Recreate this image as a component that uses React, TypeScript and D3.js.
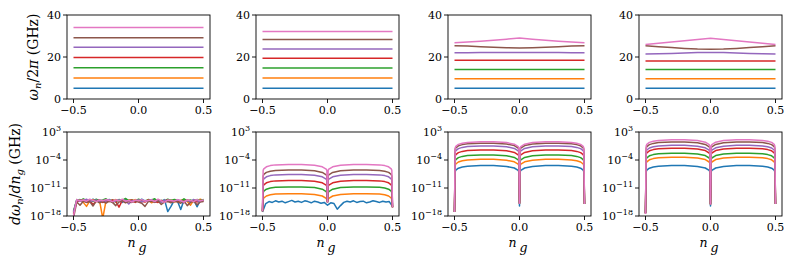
import * as d3 from 'd3';

const colors = ['#1f77b4', '#ff7f0e', '#2ca02c', '#d62728', '#9467bd', '#8c564b', '#e377c2'];

// n_g sample points
const ngCoarse = [-0.5, -0.4, -0.3, -0.2, -0.1, 0, 0.1, 0.2, 0.3, 0.4, 0.5];
const ngFine = [
  -0.5, -0.475, -0.45, -0.425, -0.4, -0.375, -0.35, -0.325, -0.3, -0.275,
  -0.25, -0.225, -0.2, -0.175, -0.15, -0.125, -0.1, -0.075, -0.05, -0.025,
  0, 0.025, 0.05, 0.075, 0.1, 0.125, 0.15, 0.175, 0.2, 0.225,
  0.25, 0.275, 0.3, 0.325, 0.35, 0.375, 0.4, 0.425, 0.45, 0.475, 0.5,
];
const ngDome = [
  -0.5, -0.495, -0.49, -0.47, -0.44, -0.4, -0.3, -0.2, -0.1, -0.04, -0.01, -0.005,
  0, 0.005, 0.01, 0.04, 0.1, 0.2, 0.3, 0.4, 0.44, 0.47, 0.49, 0.495, 0.5,
];

// top row: omega_n / 2pi (GHz), one array per level, sampled on ngCoarse
const freqA = [
  [5.1, 5.1, 5.1, 5.1, 5.1, 5.1, 5.1, 5.1, 5.1, 5.1, 5.1],
  [10.0, 10.0, 10.0, 10.0, 10.0, 10.0, 10.0, 10.0, 10.0, 10.0, 10.0],
  [14.9, 14.9, 14.9, 14.9, 14.9, 14.9, 14.9, 14.9, 14.9, 14.9, 14.9],
  [19.8, 19.8, 19.8, 19.8, 19.8, 19.8, 19.8, 19.8, 19.8, 19.8, 19.8],
  [24.6, 24.6, 24.6, 24.6, 24.6, 24.6, 24.6, 24.6, 24.6, 24.6, 24.6],
  [29.2, 29.2, 29.2, 29.2, 29.2, 29.2, 29.2, 29.2, 29.2, 29.2, 29.2],
  [34.0, 34.0, 34.0, 34.0, 34.0, 34.0, 34.0, 34.0, 34.0, 34.0, 34.0],
];
const freqB = [
  [5.1, 5.1, 5.1, 5.1, 5.1, 5.1, 5.1, 5.1, 5.1, 5.1, 5.1],
  [10.0, 10.0, 10.0, 10.0, 10.0, 10.0, 10.0, 10.0, 10.0, 10.0, 10.0],
  [14.8, 14.8, 14.8, 14.8, 14.8, 14.8, 14.8, 14.8, 14.8, 14.8, 14.8],
  [19.4, 19.4, 19.4, 19.4, 19.4, 19.4, 19.4, 19.4, 19.4, 19.4, 19.4],
  [23.8, 23.8, 23.8, 23.8, 23.8, 23.8, 23.8, 23.8, 23.8, 23.8, 23.8],
  [28.3, 28.3, 28.3, 28.3, 28.3, 28.3, 28.3, 28.3, 28.3, 28.3, 28.3],
  [32.2, 32.2, 32.2, 32.2, 32.2, 32.2, 32.2, 32.2, 32.2, 32.2, 32.2],
];
const freqC = [
  [5.1, 5.1, 5.1, 5.1, 5.1, 5.1, 5.1, 5.1, 5.1, 5.1, 5.1],
  [9.7, 9.7, 9.7, 9.7, 9.7, 9.7, 9.7, 9.7, 9.7, 9.7, 9.7],
  [14.1, 14.1, 14.1, 14.1, 14.1, 14.1, 14.1, 14.1, 14.1, 14.1, 14.1],
  [18.4, 18.4, 18.4, 18.4, 18.4, 18.4, 18.4, 18.4, 18.4, 18.4, 18.4],
  [22.0, 22.0, 22.1, 22.1, 22.2, 22.2, 22.2, 22.1, 22.1, 22.0, 22.0],
  [25.4, 25.2, 24.9, 24.6, 24.4, 24.3, 24.4, 24.6, 24.9, 25.2, 25.4],
  [26.8, 27.1, 27.5, 28.0, 28.5, 29.0, 28.5, 28.0, 27.5, 27.1, 26.8],
];
const freqD = [
  [5.1, 5.1, 5.1, 5.1, 5.1, 5.1, 5.1, 5.1, 5.1, 5.1, 5.1],
  [9.7, 9.7, 9.7, 9.7, 9.7, 9.7, 9.7, 9.7, 9.7, 9.7, 9.7],
  [14.1, 14.1, 14.1, 14.1, 14.1, 14.1, 14.1, 14.1, 14.1, 14.1, 14.1],
  [18.1, 18.1, 18.1, 18.1, 18.1, 18.1, 18.1, 18.1, 18.1, 18.1, 18.1],
  [21.4, 21.5, 21.7, 21.9, 22.1, 22.2, 22.1, 21.9, 21.7, 21.5, 21.4],
  [25.3, 24.9, 24.5, 24.1, 23.8, 23.7, 23.8, 24.1, 24.5, 24.9, 25.3],
  [26.0, 26.5, 27.1, 27.7, 28.3, 28.9, 28.3, 27.7, 27.1, 26.5, 26.0],
];

// bottom row: log10 of d omega_n / d n_g (GHz)
const slopeA = [
  [-17.2, -14.1, -13.9, -14.3, -14.0, -14.4, -13.8, -14.2, -14.0, -14.5,
   -14.1, -13.9, -14.3, -14.0, -14.2, -14.6, -13.9, -14.1, -14.4, -14.0,
   -14.2, -13.8, -14.3, -14.1, -14.5, -14.0, -14.2, -14.4, -13.9, -16.9,
   -15.6, -14.1, -14.3, -16.4, -14.0, -14.2, -14.5, -13.9, -15.7, -14.1, -14.2],
  [-17.0, -14.3, -14.0, -14.6, -15.6, -14.2, -13.9, -14.4, -14.1, -18.6,
   -14.2, -14.0, -14.5, -13.9, -14.3, -14.1, -14.6, -14.0, -14.2, -13.9,
   -14.4, -14.1, -14.3, -14.0, -14.7, -14.2, -13.9, -14.4, -14.1, -14.3,
   -14.0, -14.5, -14.2, -14.1, -13.9, -14.4, -15.3, -14.0, -14.2, -13.8, -14.1],
  [-16.8, -13.9, -14.2, -13.7, -14.1, -14.0, -14.4, -13.8, -14.2, -14.0,
   -13.7, -14.3, -14.0, -14.5, -13.9, -14.1, -13.6, -14.2, -14.0, -14.4,
   -13.8, -14.1, -14.3, -13.9, -14.0, -13.7, -14.4, -14.1, -14.2, -13.8,
   -14.1, -13.9, -14.0, -14.3, -13.7, -14.2, -14.0, -14.4, -13.9, -14.1, -13.9],
  [-17.5, -14.4, -14.2, -14.0, -14.5, -14.1, -15.2, -14.3, -14.0, -14.6,
   -14.2, -14.4, -14.0, -14.3, -15.8, -14.1, -14.5, -14.2, -14.0, -14.6,
   -14.1, -14.3, -14.5, -14.0, -14.2, -14.4, -14.6, -14.1, -14.3, -14.0,
   -14.5, -14.2, -14.4, -14.1, -14.7, -14.0, -14.3, -14.2, -14.5, -14.1, -14.3],
  [-17.0, -14.0, -14.3, -14.1, -13.8, -14.4, -14.2, -14.0, -14.5, -14.1,
   -14.3, -13.9, -14.6, -14.2, -14.0, -14.4, -14.1, -15.0, -14.2, -14.3,
   -14.0, -14.5, -14.1, -14.3, -13.9, -14.4, -14.2, -14.6, -14.0, -14.3,
   -14.1, -14.4, -14.0, -14.2, -14.6, -14.1, -14.3, -13.9, -14.2, -14.4, -14.0],
  [-18.5, -14.5, -15.3, -14.3, -14.6, -14.4, -15.5, -14.2, -14.7, -14.4,
   -14.8, -14.3, -14.6, -15.4, -14.5, -14.2, -14.7, -14.4, -14.6, -14.3,
   -14.5, -14.8, -15.6, -14.4, -14.3, -14.6, -14.2, -15.1, -14.5, -14.4,
   -14.7, -14.3, -14.5, -14.8, -14.2, -15.4, -14.6, -14.3, -15.2, -14.5, -14.4],
  [-18.0, -13.9, -14.2, -14.0, -14.3, -13.8, -14.1, -14.4, -14.0, -14.2,
   -13.9, -14.1, -14.4, -14.0, -14.2, -13.8, -14.3, -14.1, -14.5, -14.0,
   -14.2, -13.9, -14.3, -14.1, -14.0, -14.4, -13.8, -14.2, -14.6, -14.0,
   -14.1, -14.3, -13.9, -14.2, -14.5, -14.0, -14.1, -14.4, -13.9, -14.2, -14.0],
];
const slopeBLowest = [
  -17.0, -14.9, -14.4, -14.6, -14.2, -14.5, -14.3, -14.7, -14.4, -14.1,
  -14.5, -14.3, -14.6, -14.2, -14.4, -14.7, -14.3, -14.5, -14.8, -14.6,
  -15.3, -14.7, -14.9, -16.3, -15.4, -14.6, -14.3, -14.5, -14.2, -14.6,
  -14.4, -14.3, -14.7, -14.5, -14.2, -14.4, -14.6, -14.3, -14.5, -14.4, -15.6,
];
const slopeB = [
  [-16.8, -13.9, -13.5, -13.0, -12.7, -12.52, -12.42, -12.42, -12.6, -13.0, -13.6, -13.9, -14.5,
   -13.9, -13.6, -13.0, -12.6, -12.42, -12.42, -12.52, -12.7, -13.0, -13.5, -13.9, -15.8],
  [-16.8, -12.2, -11.8, -11.3, -11.0, -10.82, -10.72, -10.72, -10.9, -11.3, -11.9, -12.2, -14.5,
   -12.2, -11.9, -11.3, -10.9, -10.72, -10.72, -10.82, -11.0, -11.3, -11.8, -12.2, -15.8],
  [-16.8, -10.6, -10.2, -9.7, -9.4, -9.22, -9.12, -9.12, -9.3, -9.7, -10.3, -10.6, -14.5,
   -10.6, -10.3, -9.7, -9.3, -9.12, -9.12, -9.22, -9.4, -9.7, -10.2, -10.6, -15.8],
  [-16.8, -9.1, -8.7, -8.2, -7.9, -7.72, -7.62, -7.62, -7.8, -8.2, -8.8, -9.1, -14.5,
   -9.1, -8.8, -8.2, -7.8, -7.62, -7.62, -7.72, -7.9, -8.2, -8.7, -9.1, -15.8],
  [-16.8, -8.0, -7.6, -7.1, -6.8, -6.62, -6.52, -6.52, -6.7, -7.1, -7.7, -8.0, -14.5,
   -8.0, -7.7, -7.1, -6.7, -6.52, -6.52, -6.62, -6.8, -7.1, -7.6, -8.0, -15.8],
  [-16.8, -6.6, -6.2, -5.7, -5.4, -5.22, -5.12, -5.12, -5.3, -5.7, -6.3, -6.6, -14.5,
   -6.6, -6.3, -5.7, -5.3, -5.12, -5.12, -5.22, -5.4, -5.7, -6.2, -6.6, -15.8],
];
const slopeC = [
  [-17.0, -6.95, -6.55, -6.05, -5.75, -5.55, -5.39, -5.39, -5.6, -6.0, -6.6, -6.95, -15.5,
   -6.95, -6.6, -6.0, -5.6, -5.39, -5.39, -5.55, -5.75, -6.05, -6.55, -6.95, -15.0],
  [-17.0, -5.4, -5.0, -4.5, -4.2, -4.0, -3.84, -3.84, -4.05, -4.45, -5.05, -5.4, -14.8,
   -5.4, -5.05, -4.45, -4.05, -3.84, -3.84, -4.0, -4.2, -4.5, -5.0, -5.4, -15.0],
  [-17.0, -4.3, -3.9, -3.4, -3.1, -2.9, -2.74, -2.74, -2.95, -3.35, -3.95, -4.3, -14.8,
   -4.3, -3.95, -3.35, -2.95, -2.74, -2.74, -2.9, -3.1, -3.4, -3.9, -4.3, -15.0],
  [-17.0, -3.05, -2.65, -2.15, -1.85, -1.65, -1.49, -1.49, -1.7, -2.1, -2.7, -3.05, -14.8,
   -3.05, -2.7, -2.1, -1.7, -1.49, -1.49, -1.65, -1.85, -2.15, -2.65, -3.05, -15.0],
  [-17.0, -2.05, -1.65, -1.15, -0.85, -0.65, -0.49, -0.49, -0.7, -1.1, -1.7, -2.05, -14.8,
   -2.05, -1.7, -1.1, -0.7, -0.49, -0.49, -0.65, -0.85, -1.15, -1.65, -2.05, -15.0],
  [-17.0, -1.35, -0.95, -0.45, -0.15, 0.05, 0.21, 0.21, 0.0, -0.4, -1.0, -1.35, -14.8,
   -1.35, -1.0, -0.4, 0.0, 0.21, 0.21, 0.05, -0.15, -0.45, -0.95, -1.35, -15.0],
  [-17.0, -1.0, -0.6, -0.1, 0.2, 0.4, 0.56, 0.56, 0.35, -0.05, -0.65, -1.0, -14.8,
   -1.0, -0.65, -0.05, 0.35, 0.56, 0.56, 0.4, 0.2, -0.1, -0.6, -1.0, -15.0],
];
const slopeD = [
  [-17.3, -6.95, -6.55, -6.05, -5.75, -5.55, -5.39, -5.39, -5.6, -6.0, -6.6, -6.95, -15.5,
   -6.95, -6.6, -6.0, -5.6, -5.39, -5.39, -5.55, -5.75, -6.05, -6.55, -6.95, -15.0],
  [-17.3, -4.85, -4.45, -3.95, -3.65, -3.45, -3.29, -3.29, -3.5, -3.9, -4.5, -4.85, -15.0,
   -4.85, -4.5, -3.9, -3.5, -3.29, -3.29, -3.45, -3.65, -3.95, -4.45, -4.85, -15.0],
  [-17.3, -3.85, -3.45, -2.95, -2.65, -2.45, -2.29, -2.29, -2.5, -2.9, -3.5, -3.85, -15.0,
   -3.85, -3.5, -2.9, -2.5, -2.29, -2.29, -2.45, -2.65, -2.95, -3.45, -3.85, -15.0],
  [-17.3, -2.6, -2.2, -1.7, -1.4, -1.2, -1.04, -1.04, -1.25, -1.65, -2.25, -2.6, -15.0,
   -2.6, -2.25, -1.65, -1.25, -1.04, -1.04, -1.2, -1.4, -1.7, -2.2, -2.6, -15.0],
  [-17.3, -1.9, -1.5, -1.0, -0.7, -0.5, -0.34, -0.34, -0.55, -0.95, -1.55, -1.9, -15.0,
   -1.9, -1.55, -0.95, -0.55, -0.34, -0.34, -0.5, -0.7, -1.0, -1.5, -1.9, -15.0],
  [-17.3, -1.05, -0.65, -0.15, 0.15, 0.35, 0.51, 0.51, 0.3, -0.1, -0.7, -1.05, -15.0,
   -1.05, -0.7, -0.1, 0.3, 0.51, 0.51, 0.35, 0.15, -0.15, -0.65, -1.05, -15.0],
  [-17.5, -0.5, -0.1, 0.4, 0.7, 0.9, 1.06, 1.06, 0.85, 0.45, -0.15, -0.5, -15.0,
   -0.5, -0.15, 0.45, 0.85, 1.06, 1.06, 0.9, 0.7, 0.4, -0.1, -0.5, -15.0],
];

const xTicks = [-0.5, 0, 0.5];
const xTickLabels = ['\u22120.5', '0.0', '0.5'];
const freqTicks = [0, 20, 40];
const slopeTicks = [3, -4, -11, -18];

const colLeft = [67, 256, 448, 639];
const axW = 143;
const topRow = [15, 99];
const botRow = [132, 216];
const font = 'DejaVu Serif';
const tickSize = 11;

type Series = { xs: number[]; ys: number[] };

function Frame({ left, top, bottom, id, children }: any) {
  return (
    <g>
      <clipPath id={id}>
        <rect x={left} y={top} width={axW} height={bottom - top} />
      </clipPath>
      <g clipPath={`url(#${id})`}>{children}</g>
      <rect x={left} y={top} width={axW} height={bottom - top} fill="none" stroke="#000" strokeWidth={0.9} />
    </g>
  );
}

function XAxis({ x, bottom }: { x: d3.ScaleLinear<number, number>; bottom: number }) {
  return (
    <g>
      {xTicks.map((t, i) => (
        <g key={t}>
          <line x1={x(t)} x2={x(t)} y1={bottom} y2={bottom + 4} stroke="#000" strokeWidth={0.9} />
          <text x={x(t)} y={bottom + 15} textAnchor="middle" fontFamily={font} fontSize={tickSize}>
            {xTickLabels[i]}
          </text>
        </g>
      ))}
    </g>
  );
}

function TopPanel({ k, data }: { k: number; data: number[][] }) {
  const left = colLeft[k];
  const x = d3.scaleLinear().domain([-0.55, 0.55]).range([left, left + axW]);
  const y = d3.scaleLinear().domain([0, 40]).range([topRow[1], topRow[0]]);
  const line = d3.line<number>().x((_, i) => x(ngCoarse[i])).y(d => y(d));
  return (
    <g>
      <Frame left={left} top={topRow[0]} bottom={topRow[1]} id={`ct${k}`}>
        {data.map((s, i) => (
          <path key={i} d={line(s) as string} fill="none" stroke={colors[i]} strokeWidth={1.5} />
        ))}
      </Frame>
      {freqTicks.map(t => (
        <g key={t}>
          <line x1={left - 4} x2={left} y1={y(t)} y2={y(t)} stroke="#000" strokeWidth={0.9} />
          <text x={left - 6} y={y(t)} dy="0.36em" textAnchor="end" fontFamily={font} fontSize={tickSize}>
            {t}
          </text>
        </g>
      ))}
      <XAxis x={x} bottom={topRow[1]} />
    </g>
  );
}

function BottomPanel({ k, series }: { k: number; series: Series[] }) {
  const left = colLeft[k];
  const x = d3.scaleLinear().domain([-0.55, 0.55]).range([left, left + axW]);
  const y = d3.scaleLog().domain([1e-18, 1e3]).range([botRow[1], botRow[0]]);
  return (
    <g>
      <Frame left={left} top={botRow[0]} bottom={botRow[1]} id={`cb${k}`}>
        {series.map((s, i) => {
          const line = d3.line<number>().x((_, j) => x(s.xs[j])).y(d => y(Math.pow(10, d)));
          return <path key={i} d={line(s.ys) as string} fill="none" stroke={colors[i]} strokeWidth={1.5} strokeLinejoin="round" />;
        })}
      </Frame>
      {slopeTicks.map(e => (
        <g key={e}>
          <line x1={left - 4} x2={left} y1={y(Math.pow(10, e))} y2={y(Math.pow(10, e))} stroke="#000" strokeWidth={0.9} />
          <text x={left - 6} y={y(Math.pow(10, e)) + 4} textAnchor="end" fontFamily={font} fontSize={tickSize}>
            10
            <tspan dy={-5} fontSize={8}>{e < 0 ? `\u2212${-e}` : `${e}`}</tspan>
          </text>
        </g>
      ))}
      <XAxis x={x} bottom={botRow[1]} />
      <text x={left + axW / 2 - 7} y={247} textAnchor="middle" fontFamily={font} fontStyle="italic" fontSize={12.5}>
        n
      </text>
      <text x={left + axW / 2 + 4} y={251.5} textAnchor="middle" fontFamily={font} fontStyle="italic" fontSize={12.5}>
        g
      </text>
    </g>
  );
}

const onFine = (ys: number[]): Series => ({ xs: ngFine, ys });
const onDome = (ys: number[]): Series => ({ xs: ngDome, ys });

export default function App() {
  const tops = [freqA, freqB, freqC, freqD];
  const bottoms: Series[][] = [
    slopeA.map(onFine),
    [onFine(slopeBLowest), ...slopeB.map(onDome)],
    slopeC.map(onDome),
    slopeD.map(onDome),
  ];
  return (
    <svg width={793} height={265} style={{ position: 'absolute', left: 0, top: 0, background: '#fff' }}>
      {tops.map((d, k) => <TopPanel key={k} k={k} data={d} />)}
      {bottoms.map((s, k) => <BottomPanel key={k} k={k} series={s} />)}
      <text transform="translate(38,57) rotate(-90)" textAnchor="middle" fontFamily={font} fontSize={14}>
        <tspan fontStyle="italic">ω</tspan>
        <tspan fontStyle="italic" fontSize={10} dy={3}>n</tspan>
        <tspan dy={-3}>/2</tspan>
        <tspan fontStyle="italic">π</tspan>
        <tspan> (GHz)</tspan>
      </text>
      <text transform="translate(20,174) rotate(-90)" textAnchor="middle" fontFamily={font} fontSize={14}>
        <tspan fontStyle="italic">dω</tspan>
        <tspan fontStyle="italic" fontSize={10} dy={3}>n</tspan>
        <tspan dy={-3}>/</tspan>
        <tspan fontStyle="italic">dn</tspan>
        <tspan fontStyle="italic" fontSize={10} dy={3}>g</tspan>
        <tspan dy={-3}> (GHz)</tspan>
      </text>
    </svg>
  );
}
